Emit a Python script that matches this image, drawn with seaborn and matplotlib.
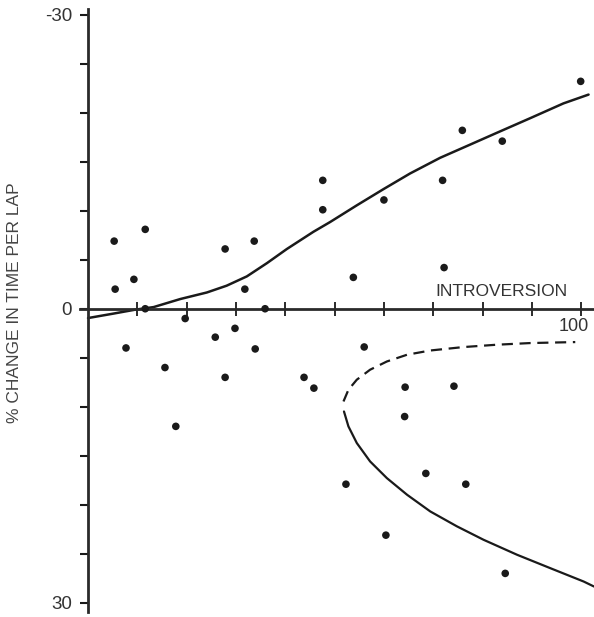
"""Lap-time change vs introversion: scatter with fitted trend and a sideways envelope.

Run:  python plot.py
Out:  out.png
"""

import matplotlib

matplotlib.use("Agg")
import matplotlib.pyplot as plt
import matplotlib.transforms as mtransforms
import pandas as pd
import seaborn as sns

sns.set_style("white")
plt.rcParams["font.family"] = ["Liberation Sans", "DejaVu Sans"]

# Scatter points (y grows downward: positive = slower lap).
INTROVERSION = [
    5.3, 5.5, 9.3, 11.6, 11.6, 7.7, 15.6, 17.8, 19.7, 25.8, 27.8, 29.8, 33.9,
    35.9, 27.8, 33.7, 31.8, 47.6, 47.6, 53.8, 60.0, 71.9, 72.2, 75.9, 84.0,
    99.9, 56.0, 43.8, 45.8, 64.3, 74.2, 64.2, 68.5, 76.6, 52.3, 60.4, 84.6,
]
PCT_CHANGE = [
    -6.9, -2.0, -3.0, -8.1, 0.0, 4.0, 6.0, 12.0, 1.0, 2.9, 7.0, 2.0, 4.1,
    0.0, -6.1, -6.9, -2.0, -13.1, -10.1, -3.2, -11.1, -13.1, -4.2, -18.2, -17.1,
    -23.2, 3.9, 7.0, 8.1, 8.0, 7.9, 11.0, 16.8, 17.9, 17.9, 23.1, 27.0,
]

# Fitted trend (solid, rising).
TREND_X = [0.0, 5.1, 9.5, 13.3, 18.7, 24.1, 28.1, 32.2, 36.3, 40.3, 45.7,
           49.1, 54.5, 59.9, 65.3, 71.4, 77.5, 82.9, 89.7, 96.4, 101.5]
TREND_Y = [0.95, 0.5, 0.1, -0.17, -0.99, -1.66, -2.35, -3.3, -4.66, -6.09, -7.85,
           -8.85, -10.55, -12.2, -13.8, -15.4, -16.75, -17.95, -19.45, -20.95, -21.85]

# Sideways envelope: upper (dashed) and lower (solid) branches.
UPPER_X = [51.8, 52.8, 54.5, 57.2, 60.6, 64.7, 69.4, 76.1, 82.9, 89.7, 98.8]
UPPER_Y = [9.46, 8.27, 7.24, 6.22, 5.38, 4.69, 4.26, 3.91, 3.67, 3.5, 3.4]
LOWER_X = [51.9, 52.8, 54.5, 57.2, 60.6, 64.7, 69.4, 74.8, 80.2, 87.0, 93.7,
           100.5, 102.6]
LOWER_Y = [10.48, 12.0, 13.7, 15.58, 17.28, 18.98, 20.68, 22.2, 23.57, 25.1,
           26.46, 27.83, 28.34]

Y_TICKS = list(range(-30, 31, 5))
Y_TICK_LABELS = ["-30", "", "", "", "", "", "0", "", "", "", "", "", "30"]
X_TICKS = list(range(10, 101, 10))
X_TICK_LABELS = [""] * 9 + ["100"]

INK = "#1a1a1a"


def main() -> None:
    pts = pd.DataFrame({"introversion": INTROVERSION, "change": PCT_CHANGE})
    trend = pd.DataFrame({"x": TREND_X, "y": TREND_Y})
    upper = pd.DataFrame({"x": UPPER_X, "y": UPPER_Y})
    lower = pd.DataFrame({"x": LOWER_X, "y": LOWER_Y})

    fig = plt.figure(figsize=(5.94, 6.17), dpi=100)
    ax = fig.add_axes([0, 0, 1, 1])

    sns.scatterplot(data=pts, x="introversion", y="change", color=INK,
                    s=30, edgecolor="none", ax=ax, zorder=4)
    sns.lineplot(data=trend, x="x", y="y", sort=False, estimator=None,
                 color=INK, lw=1.8, ax=ax)
    sns.lineplot(data=upper, x="x", y="y", sort=False, estimator=None,
                 color=INK, lw=1.6, linestyle=(0, (5, 3)), ax=ax)
    sns.lineplot(data=lower, x="x", y="y", sort=False, estimator=None,
                 color=INK, lw=1.6, ax=ax)

    # Axis frame crosses at the origin like the printed figure.
    ax.set_xlim(-17.85, 102.6)
    ax.set_ylim(31.45, -31.5)
    for side in ("top", "right"):
        ax.spines[side].set_visible(False)
    ax.spines["left"].set_position(("data", 0))
    ax.spines["bottom"].set_position(("data", 0))
    ax.spines["left"].set_bounds(-30.6, 30.9)
    ax.spines["bottom"].set_bounds(-1.6, 102.6)
    for side in ("left", "bottom"):
        ax.spines[side].set_linewidth(2)
        ax.spines[side].set_color("#2a2a2a")

    ax.set_yticks(Y_TICKS, Y_TICK_LABELS)
    ax.set_xticks(X_TICKS, X_TICK_LABELS)
    ax.tick_params(axis="y", left=True, direction="out", length=6, width=1.5,
                   labelsize=13.5, pad=5.5, colors=INK, labelcolor="#333333")
    ax.tick_params(axis="x", bottom=True, direction="inout", length=10, width=1.3,
                   labelsize=13, pad=2, colors=INK, labelcolor="#333333")

    # Nudge the end label left a touch so it stays on the canvas.
    shift = mtransforms.ScaledTranslation(-5 / 72, 0, fig.dpi_scale_trans)
    for lab in ax.get_xticklabels():
        lab.set_transform(lab.get_transform() + shift)

    ax.set_ylabel("% CHANGE IN TIME PER LAP", fontsize=12.5, color="#444444")
    ax.yaxis.set_label_coords(0.037, 0.51)
    ax.set_xlabel("INTROVERSION", fontsize=12.5, color="#333333")
    ax.xaxis.set_label_coords(0.844, 0.527)
    ax.xaxis.label.set_va("center")

    fig.savefig("out.png", dpi=100)
    plt.close(fig)


if __name__ == "__main__":
    main()
